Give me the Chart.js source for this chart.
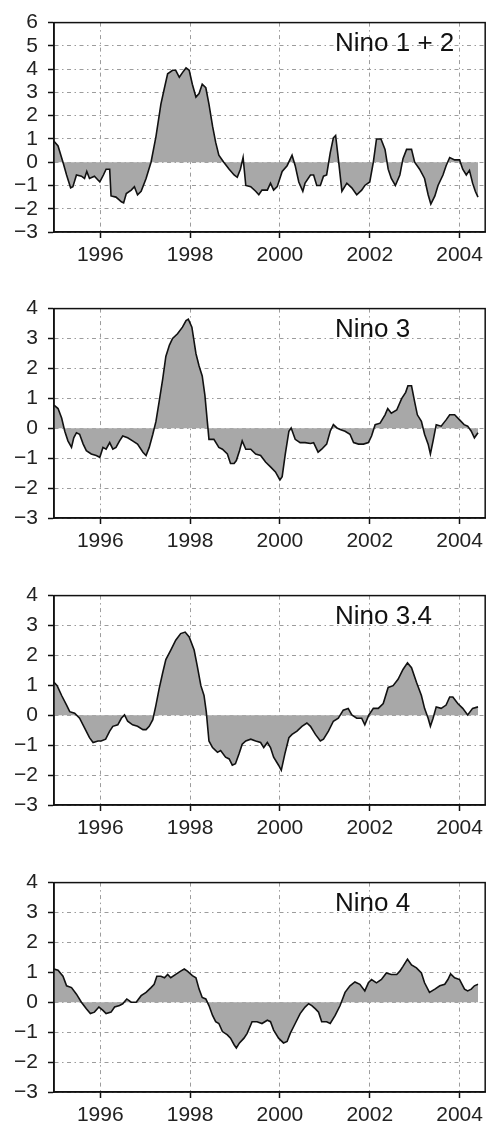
<!DOCTYPE html>
<html>
<head>
<meta charset="utf-8">
<script src="https://cdn.jsdelivr.net/npm/chart.js@4.4.1/dist/chart.umd.min.js"></script>
<style>
html, body { margin: 0; padding: 0; background: #fff; overflow: hidden; }
.panel { position: absolute; left: 0; width: 488px; height: 280px; }
</style>
</head>
<body>
<div class="panel" style="top:0px"><canvas id="nino12"></canvas></div>
<div class="panel" style="top:286px"><canvas id="nino3"></canvas></div>
<div class="panel" style="top:573px"><canvas id="nino34"></canvas></div>
<div class="panel" style="top:860px"><canvas id="nino4"></canvas></div>
<script>
// x axis (decimal years) and tick labels
var xMin = 1994.97, xMax = 2004.57;
var xTicks = [1996, 1998, 2000, 2002, 2004];
var yTicksTall = [-3, -2, -1, 0, 1, 2, 3, 4, 5, 6];
var yTicksShort = [-3, -2, -1, 0, 1, 2, 3, 4];

// Nino 1 + 2
var nino12Time = [1994.97,1995.06,1995.17,1995.25,1995.34,1995.39,1995.47,1995.58,1995.65,1995.70,
  1995.76,1995.87,1995.99,1996.07,1996.13,1996.21,1996.24,1996.35,1996.47,1996.52,
  1996.58,1996.69,1996.76,1996.83,1996.91,1997.02,1997.13,1997.24,1997.35,1997.43,
  1997.50,1997.61,1997.68,1997.76,1997.83,1997.91,1997.98,1998.05,1998.13,1998.20,
  1998.27,1998.35,1998.42,1998.50,1998.57,1998.64,1998.75,1998.87,1998.98,1999.05,
  1999.12,1999.18,1999.24,1999.35,1999.46,1999.53,1999.60,1999.72,1999.79,1999.86,
  1999.94,2000.05,2000.16,2000.27,2000.34,2000.42,2000.51,2000.56,2000.68,2000.75,
  2000.82,2000.90,2000.97,2001.04,2001.12,2001.19,2001.24,2001.30,2001.38,2001.49,
  2001.60,2001.71,2001.82,2001.89,2002.00,2002.08,2002.15,2002.25,2002.34,2002.41,
  2002.48,2002.57,2002.67,2002.74,2002.82,2002.93,2003.00,2003.11,2003.22,2003.30,
  2003.36,2003.45,2003.52,2003.63,2003.70,2003.78,2003.89,2004.00,2004.07,2004.15,
  2004.22,2004.29,2004.35,2004.41];
var nino12Vals = [0.9,0.7,0,-0.55,-1.1,-1.05,-0.55,-0.6,-0.7,-0.4,
  -0.7,-0.6,-0.85,-0.55,-0.3,-0.3,-1.45,-1.5,-1.7,-1.75,
  -1.35,-1.2,-1.05,-1.4,-1.25,-0.7,0,1.1,2.5,3.2,
  3.8,3.95,3.95,3.65,3.85,4.05,3.95,3.35,2.8,2.95,
  3.35,3.2,2.5,1.55,0.85,0.3,0,-0.3,-0.55,-0.65,
  -0.3,0.2,-1.0,-1.05,-1.25,-1.4,-1.2,-1.2,-0.9,-1.2,
  -1.05,-0.4,-0.15,0.3,-0.15,-0.85,-1.25,-0.9,-0.55,-0.55,
  -1.0,-1.0,-0.6,-0.55,0.4,1.05,1.15,0.15,-1.25,-0.9,
  -1.1,-1.4,-1.2,-1.0,-0.85,0,1.0,1.0,0.55,-0.3,
  -0.7,-1.0,-0.55,0.15,0.55,0.55,0,-0.3,-0.7,-1.4,
  -1.8,-1.45,-1.0,-0.55,-0.15,0.2,0.1,0.1,-0.3,-0.55,
  -0.35,-0.9,-1.25,-1.5];

// Nino 3
var nino3Time = [1994.97,1995.06,1995.14,1995.21,1995.28,1995.36,1995.41,1995.47,1995.54,1995.62,
  1995.69,1995.80,1995.91,1995.99,1996.06,1996.13,1996.21,1996.28,1996.35,1996.43,
  1996.50,1996.61,1996.72,1996.83,1996.95,1997.02,1997.09,1997.17,1997.24,1997.31,
  1997.39,1997.46,1997.54,1997.61,1997.72,1997.83,1997.91,1997.96,1998.04,1998.13,
  1998.20,1998.27,1998.33,1998.39,1998.42,1998.53,1998.64,1998.72,1998.83,1998.90,
  1998.98,1999.03,1999.10,1999.16,1999.24,1999.35,1999.46,1999.57,1999.68,1999.79,
  1999.90,2000.00,2000.05,2000.12,2000.20,2000.25,2000.34,2000.45,2000.56,2000.68,
  2000.75,2000.85,2000.93,2001.04,2001.12,2001.19,2001.27,2001.34,2001.45,2001.56,
  2001.64,2001.75,2001.86,2001.97,2002.04,2002.12,2002.23,2002.34,2002.40,2002.48,
  2002.60,2002.71,2002.80,2002.85,2002.93,2003.00,2003.06,2003.15,2003.22,2003.30,
  2003.35,2003.41,2003.48,2003.59,2003.70,2003.78,2003.89,2004.00,2004.10,2004.18,
  2004.26,2004.33,2004.41];
var nino3Vals = [0.77,0.66,0.34,-0.1,-0.42,-0.64,-0.32,-0.15,-0.2,-0.53,
  -0.75,-0.86,-0.91,-0.97,-0.64,-0.7,-0.48,-0.7,-0.64,-0.42,
  -0.26,-0.32,-0.42,-0.53,-0.8,-0.91,-0.64,-0.2,0.23,0.88,
  1.64,2.4,2.78,3.0,3.16,3.38,3.6,3.65,3.38,2.5,
  2.08,1.75,1.1,0.12,-0.37,-0.37,-0.64,-0.7,-0.86,-1.18,
  -1.18,-1.08,-0.75,-0.42,-0.7,-0.7,-0.86,-0.91,-1.13,-1.29,
  -1.46,-1.73,-1.62,-0.86,-0.1,0.01,-0.37,-0.48,-0.48,-0.51,
  -0.48,-0.8,-0.7,-0.53,-0.1,0.12,0.01,-0.04,-0.1,-0.2,
  -0.48,-0.53,-0.53,-0.48,-0.26,0.12,0.17,0.45,0.66,0.5,
  0.61,0.99,1.2,1.42,1.42,0.88,0.45,0.23,-0.2,-0.53,
  -0.86,-0.42,0.12,0.07,0.28,0.45,0.45,0.28,0.12,0.07,
  -0.1,-0.32,-0.15];

// Nino 3.4
var nino34Time = [1994.97,1995.04,1995.14,1995.25,1995.32,1995.43,1995.54,1995.65,1995.76,1995.84,
  1995.95,1996.02,1996.12,1996.21,1996.28,1996.39,1996.47,1996.54,1996.61,1996.72,
  1996.83,1996.95,1997.02,1997.09,1997.17,1997.24,1997.31,1997.39,1997.46,1997.57,
  1997.68,1997.79,1997.89,1997.98,1998.09,1998.16,1998.24,1998.31,1998.36,1998.42,
  1998.50,1998.61,1998.68,1998.79,1998.87,1998.94,1999.01,1999.09,1999.16,1999.24,
  1999.35,1999.46,1999.57,1999.64,1999.72,1999.79,1999.86,1999.97,2000.03,2000.11,
  2000.20,2000.27,2000.38,2000.49,2000.60,2000.68,2000.79,2000.90,2000.97,2001.08,
  2001.19,2001.30,2001.41,2001.52,2001.60,2001.71,2001.82,2001.89,2001.98,2002.08,
  2002.19,2002.30,2002.41,2002.52,2002.63,2002.74,2002.84,2002.93,2003.04,2003.15,
  2003.22,2003.30,2003.35,2003.41,2003.48,2003.59,2003.70,2003.78,2003.85,2003.96,
  2004.07,2004.18,2004.29,2004.41];
var nino34Vals = [1.1,0.99,0.66,0.34,0.12,0.07,-0.1,-0.42,-0.75,-0.91,
  -0.86,-0.86,-0.8,-0.53,-0.37,-0.32,-0.1,0.01,-0.2,-0.32,
  -0.37,-0.48,-0.48,-0.37,-0.15,0.34,0.88,1.42,1.86,2.18,
  2.51,2.73,2.78,2.62,2.18,1.64,0.99,0.66,0.12,-0.86,
  -1.08,-1.24,-1.18,-1.4,-1.46,-1.67,-1.62,-1.29,-0.97,-0.86,
  -0.8,-0.86,-0.91,-1.08,-0.91,-1.08,-1.4,-1.67,-1.84,-1.29,
  -0.75,-0.64,-0.53,-0.37,-0.26,-0.37,-0.64,-0.86,-0.8,-0.53,
  -0.2,-0.1,0.17,0.23,0.01,-0.1,-0.1,-0.32,0.01,0.23,
  0.23,0.39,0.93,0.99,1.2,1.53,1.75,1.59,1.1,0.66,
  0.23,-0.1,-0.37,-0.1,0.28,0.23,0.34,0.61,0.61,0.39,
  0.23,0.01,0.23,0.28];

// Nino 4
var nino4Time = [1994.97,1995.06,1995.17,1995.25,1995.36,1995.47,1995.58,1995.69,1995.78,1995.87,
  1995.97,1996.06,1996.13,1996.24,1996.32,1996.43,1996.50,1996.59,1996.69,1996.80,
  1996.91,1997.02,1997.13,1997.20,1997.26,1997.35,1997.43,1997.50,1997.57,1997.68,
  1997.79,1997.87,1997.94,1998.05,1998.13,1998.20,1998.27,1998.35,1998.42,1998.50,
  1998.57,1998.64,1998.72,1998.83,1998.90,1998.98,1999.03,1999.10,1999.20,1999.27,
  1999.38,1999.49,1999.60,1999.72,1999.79,1999.86,1999.97,2000.08,2000.16,2000.23,
  2000.34,2000.45,2000.56,2000.64,2000.71,2000.79,2000.86,2000.93,2001.04,2001.12,
  2001.23,2001.34,2001.45,2001.56,2001.67,2001.78,2001.89,2001.97,2002.04,2002.15,
  2002.26,2002.37,2002.48,2002.60,2002.67,2002.74,2002.84,2002.93,2003.04,2003.15,
  2003.22,2003.33,2003.45,2003.56,2003.67,2003.74,2003.80,2003.89,2004.00,2004.11,
  2004.18,2004.26,2004.33,2004.41];
var nino4Vals = [1.11,1.07,0.87,0.55,0.49,0.27,0,-0.22,-0.38,-0.33,
  -0.16,-0.27,-0.38,-0.33,-0.16,-0.11,-0.05,0.11,0,0,
  0.22,0.33,0.49,0.6,0.87,0.87,0.82,0.93,0.82,0.93,
  1.04,1.11,1.04,0.89,0.82,0.44,0.16,0.11,-0.11,-0.44,
  -0.65,-0.71,-0.98,-1.09,-1.2,-1.42,-1.53,-1.36,-1.2,-1.04,
  -0.65,-0.65,-0.71,-0.6,-0.65,-0.93,-1.2,-1.36,-1.31,-1.04,
  -0.71,-0.38,-0.16,-0.05,-0.11,-0.22,-0.33,-0.65,-0.65,-0.71,
  -0.44,-0.11,0.33,0.55,0.68,0.6,0.38,0.65,0.76,0.65,
  0.76,0.98,0.93,0.93,1.04,1.2,1.44,1.25,1.15,0.98,
  0.65,0.33,0.44,0.55,0.6,0.76,0.95,0.82,0.76,0.44,
  0.38,0.44,0.55,0.6];

var fontFamily = '"Liberation Sans", Arial, Helvetica, sans-serif';

// black frame round the plot area
var boxPlugin = {
  id: 'box',
  afterDraw: function(chart) {
    var a = chart.chartArea, c = chart.ctx;
    c.save();
    c.strokeStyle = '#111';
    c.lineWidth = 1.5;
    c.strokeRect(a.left, a.top, a.right - a.left, a.bottom - a.top);
    c.restore();
  }
};

// panel name written inside the plot
var nameplate = {
  id: 'nameplate',
  afterDraw: function(chart, args, opts) {
    var a = chart.chartArea, c = chart.ctx;
    c.save();
    c.font = '26px ' + fontFamily;
    c.fillStyle = '#111';
    c.textBaseline = 'middle';
    c.fillText(opts.text, a.left + 281, a.top + 21);
    c.restore();
  }
};

function minusLabel(v) {
  return v < 0 ? '\u2212' + Math.abs(v) : String(v);
}

function makePanel(id, name, times, vals, yTicks) {
  var points = times.map(function(t, i) { return {x: t, y: vals[i]}; });
  var ctx = document.getElementById(id).getContext('2d');
  return new Chart(ctx, {
    type: 'line',
    data: {
      datasets: [{
        data: points,
        borderColor: '#111',
        borderWidth: 1.6,
        backgroundColor: '#a8a8a8',
        fill: 'origin',
        pointRadius: 0,
        tension: 0
      }]
    },
    options: {
      responsive: true,
      maintainAspectRatio: false,
      animation: false,
      layout: { padding: { top: 18, right: 1, left: 0, bottom: 0 } },
      plugins: {
        legend: { display: false },
        tooltip: { enabled: false },
        nameplate: { text: name }
      },
      scales: {
        x: {
          type: 'linear',
          min: xMin,
          max: xMax,
          afterBuildTicks: function(s) { s.ticks = xTicks.map(function(v) { return {value: v}; }); },
          afterFit: function(s) { s.height = 48; },
          ticks: {
            color: '#222',
            font: { family: fontFamily, size: 21 },
            padding: 5,
            maxRotation: 0,
            autoSkip: false,
            callback: function(v) { return String(v); }
          },
          grid: { color: '#9c9c9c', lineWidth: 1, tickColor: '#111', tickLength: 6, tickWidth: 1.5 },
          border: { display: true, color: '#111', width: 1.5, dash: [4, 3.5, 1.5, 3.5] }
        },
        y: {
          min: yTicks[0],
          max: yTicks[yTicks.length - 1],
          afterBuildTicks: function(s) { s.ticks = yTicks.map(function(v) { return {value: v}; }); },
          afterFit: function(s) { s.width = 54; },
          ticks: {
            color: '#222',
            font: { family: fontFamily, size: 21 },
            padding: 10,
            autoSkip: false,
            callback: minusLabel
          },
          grid: { color: '#9c9c9c', lineWidth: 1, tickColor: '#111', tickLength: 6, tickWidth: 1.5 },
          border: { display: true, color: '#111', width: 1.5, dash: [4, 3.5, 1.5, 3.5] }
        }
      }
    },
    plugins: [boxPlugin, nameplate]
  });
}

makePanel('nino12', 'Nino 1 + 2', nino12Time, nino12Vals, yTicksTall);
makePanel('nino3', 'Nino 3', nino3Time, nino3Vals, yTicksShort);
makePanel('nino34', 'Nino 3.4', nino34Time, nino34Vals, yTicksShort);
makePanel('nino4', 'Nino 4', nino4Time, nino4Vals, yTicksShort);
</script>
</body>
</html>
